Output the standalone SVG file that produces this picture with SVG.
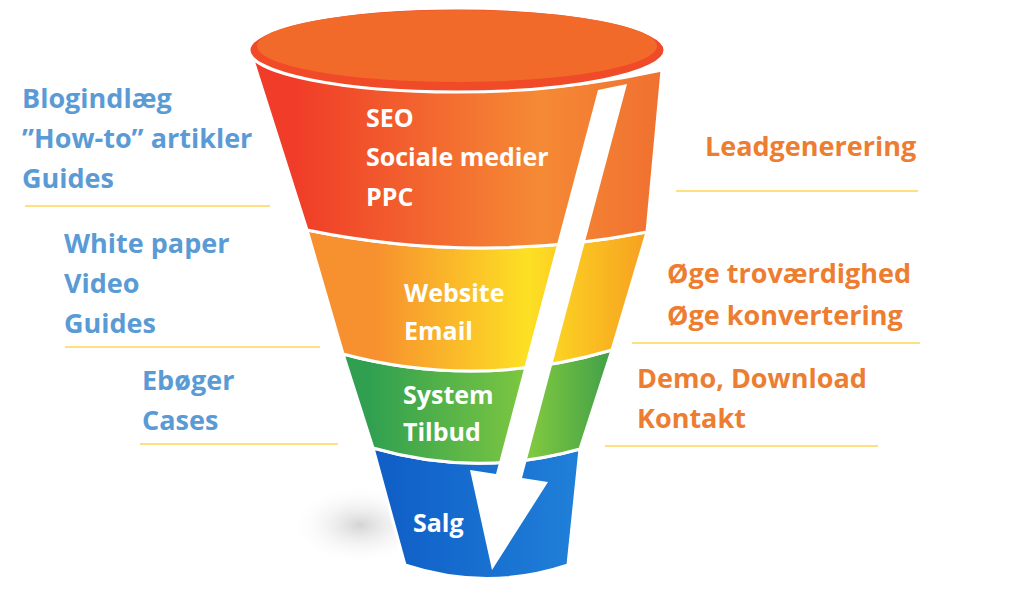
<svg xmlns="http://www.w3.org/2000/svg" width="1024" height="589" viewBox="0 0 1024 589">
<style>
.w{font-family:"Open Sans","Liberation Sans",sans-serif;font-weight:bold;font-size:25px;fill:#fff}
.b{font-family:"Open Sans","Liberation Sans",sans-serif;font-weight:bold;font-size:27px;fill:#5b9bd5}
.o{font-family:"Open Sans","Liberation Sans",sans-serif;font-weight:bold;font-size:27px;fill:#ed7d31}
.l{stroke:#ffc000;stroke-width:1}
</style>
<defs>
<linearGradient id="gr" x1="0" x2="1"><stop offset="0.1" stop-color="#f03c28"/><stop offset="0.7" stop-color="#f58a35"/><stop offset="1" stop-color="#f07030"/></linearGradient>
<linearGradient id="go" x1="0" x2="1"><stop offset="0.2" stop-color="#f7902f"/><stop offset="0.65" stop-color="#fde024"/><stop offset="1" stop-color="#f7a020"/></linearGradient>
<linearGradient id="gg" x1="0" x2="1"><stop offset="0.1" stop-color="#30a050"/><stop offset="0.7" stop-color="#80c840"/><stop offset="1" stop-color="#40a048"/></linearGradient>
<linearGradient id="gb" x1="0" x2="1"><stop offset="0.1" stop-color="#1060c8"/><stop offset="1" stop-color="#2080d8"/></linearGradient>
<radialGradient id="sh"><stop offset="0" stop-color="#d4d4d4"/><stop offset="1" stop-color="#fff" stop-opacity="0"/></radialGradient>
</defs>
<ellipse cx="360" cy="525" rx="70" ry="40" fill="url(#sh)"/>
<g id="funnel">
<path d="M373,448 L405,565 Q487,592 568,565 L580,449 Q477,478 373,448Z" fill="url(#gb)" stroke="#fff" stroke-width="3"/>
<path d="M343,354 L373,448 Q477,478 580,449 L612,350 Q477,390 343,354Z" fill="url(#gg)" stroke="#fff" stroke-width="3"/>
<path d="M307,230 L343,354 Q477,390 612,350 L647,232 Q477,265 307,230Z" fill="url(#go)" stroke="#fff" stroke-width="3"/>
<path d="M253,60 L307,230 Q477,265 647,232 L662,70 Q460,115 253,60Z" fill="url(#gr)" stroke="#fff" stroke-width="3"/>
<ellipse cx="457" cy="50" rx="208" ry="42" fill="#f04a28" stroke="#fff" stroke-width="3"/>
<ellipse cx="457" cy="46" rx="200" ry="36" fill="#f26a2a"/>
</g>
<g id="connectors">
<path d="M598,90 L627,84 L522,478 L548,482 L492,570 L470,470 L496,474Z" fill="#fff"/>
</g>
<g id="labels">
<text class="w" x="366" y="127">SEO</text>
<text class="w" x="366" y="166">Sociale medier</text>
<text class="w" x="366" y="206">PPC</text>
<text class="w" x="404" y="302">Website</text>
<text class="w" x="404" y="340">Email</text>
<text class="w" x="403" y="404">System</text>
<text class="w" x="403" y="441">Tilbud</text>
<text class="w" x="413" y="532">Salg</text>
<text class="b" x="22" y="108">Blogindlæg</text>
<text class="b" x="22" y="148">”How-to” artikler</text>
<text class="b" x="22" y="188">Guides</text>
<text class="b" x="64" y="253">White paper</text>
<text class="b" x="64" y="293">Video</text>
<text class="b" x="64" y="333">Guides</text>
<text class="b" x="142" y="390">Ebøger</text>
<text class="b" x="142" y="430">Cases</text>
<text class="o" x="705" y="156">Leadgenerering</text>
<text class="o" x="667" y="283">Øge troværdighed</text>
<text class="o" x="667" y="325">Øge konvertering</text>
<text class="o" x="637" y="388">Demo, Download</text>
<text class="o" x="637" y="428">Kontakt</text>
</g>
<g id="lines">
<line class="l" x1="25" y1="206" x2="270" y2="206"/>
<line class="l" x1="65" y1="347" x2="320" y2="347"/>
<line class="l" x1="140" y1="444" x2="338" y2="444"/>
<line class="l" x1="676" y1="191" x2="918" y2="191"/>
<line class="l" x1="632" y1="343" x2="920" y2="343"/>
<line class="l" x1="605" y1="446" x2="878" y2="446"/>
</g>
</svg>
